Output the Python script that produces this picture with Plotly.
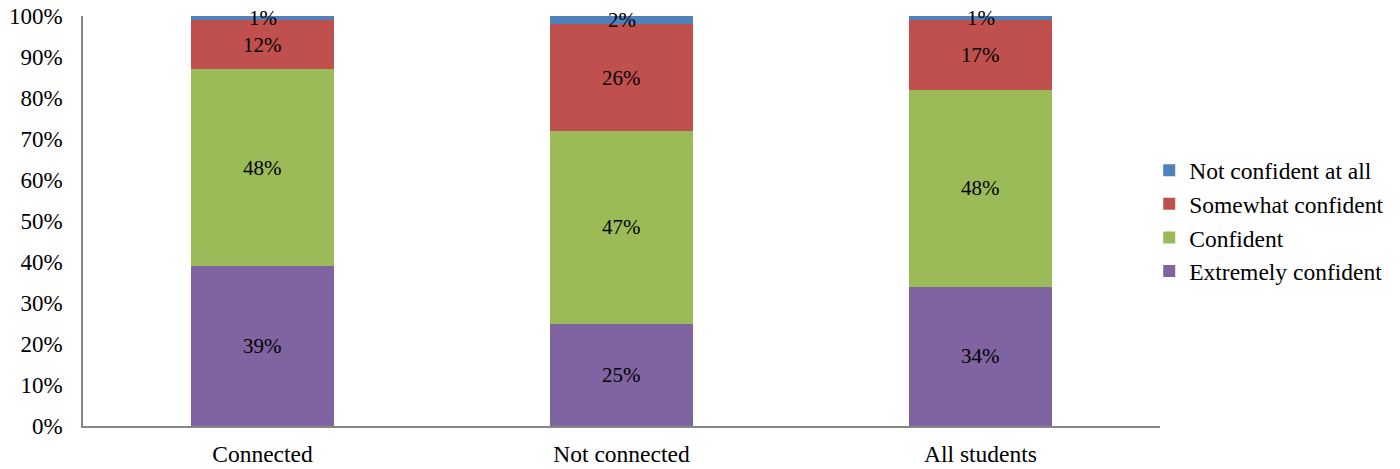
import plotly.graph_objects as go

# Share of students by confidence level, per group (percent)
categories = ["Connected", "Not connected", "All students"]
extremely_confident = [39, 25, 34]
confident = [48, 47, 48]
somewhat_confident = [12, 26, 17]
not_confident_at_all = [1, 2, 1]

series = [
    ("Extremely confident", extremely_confident, "#8064A2"),
    ("Confident", confident, "#9BBB59"),
    ("Somewhat confident", somewhat_confident, "#C0504D"),
    ("Not confident at all", not_confident_at_all, "#4F81BD"),
]

FONT = "Liberation Serif, Times New Roman, serif"
AXIS_GRAY = "#868686"

fig = go.Figure()
base = [0] * len(categories)
annotations = []
for name, vals, color in series:
    fig.add_trace(go.Bar(
        name=name, x=categories, y=vals,
        marker=dict(color=color, line=dict(width=0)),
    ))
    # value label centred in each segment
    for i, v in enumerate(vals):
        annotations.append(dict(
            x=categories[i], y=base[i] + v / 2, xref="x", yref="y",
            text=f"{v}%", showarrow=False,
            font=dict(family=FONT, size=21, color="#000000"),
        ))
        base[i] += v

fig.update_layout(
    width=1400, height=469,
    barmode="stack", bargap=0.6,
    paper_bgcolor="white", plot_bgcolor="white",
    margin=dict(l=83, r=240, t=16, b=43, autoexpand=False),
    font=dict(family=FONT, size=23.5, color="#000000"),
    annotations=annotations,
    legend=dict(
        traceorder="reversed",
        x=0.99, xanchor="left", y=0.5, yanchor="middle",
        font=dict(family=FONT, size=23.5),
        bgcolor="rgba(0,0,0,0)",
    ),
)
fig.update_xaxes(
    automargin=False,
    showline=True, linecolor=AXIS_GRAY, linewidth=1.5,
    showgrid=False, ticks="", ticklabelstandoff=6,
    tickfont=dict(family=FONT, size=23.5),
)
fig.update_yaxes(
    automargin=False,
    range=[0, 100], dtick=10, ticksuffix="%",
    showline=True, linecolor=AXIS_GRAY, linewidth=1.5,
    showgrid=False, zeroline=False, ticks="", ticklabelstandoff=14,
    tickfont=dict(family=FONT, size=23),
)

fig.write_html("out.html")
